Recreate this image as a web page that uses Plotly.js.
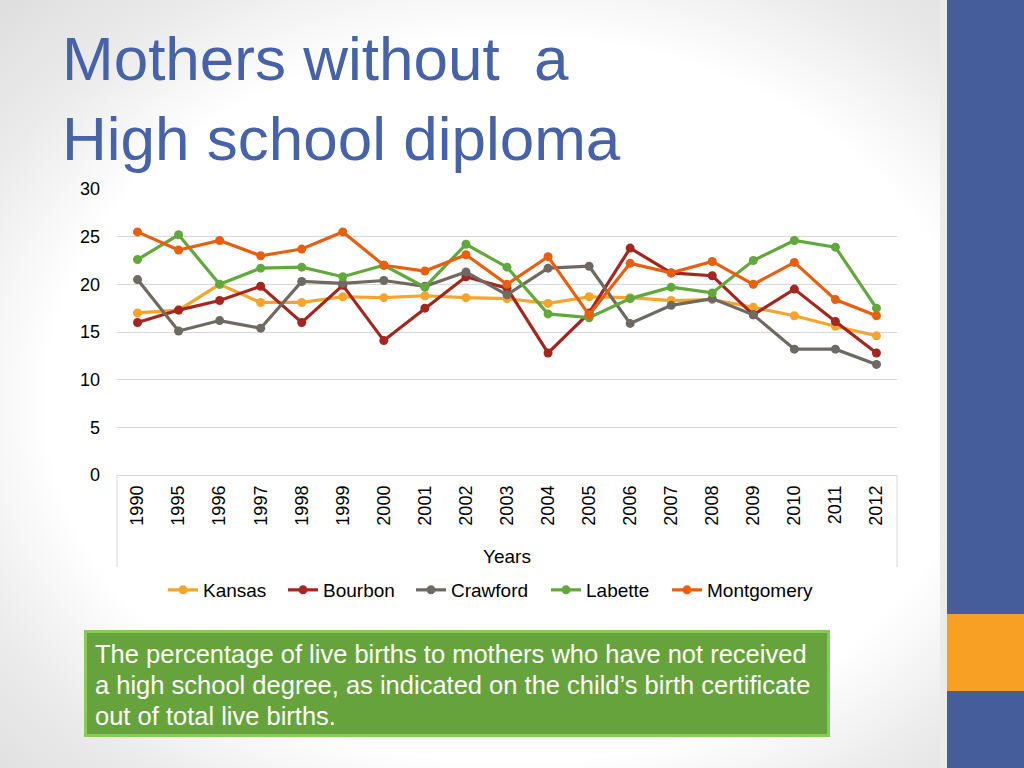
<!DOCTYPE html>
<html>
<head>
<meta charset="utf-8">
<script src="https://cdn.plot.ly/plotly-3.0.1.min.js"></script>
<style>
  html, body { margin: 0; padding: 0; }
  body {
    width: 1024px; height: 768px; overflow: hidden;
    background: radial-gradient(ellipse farthest-corner at 50% 52%, #ffffff 64%, #ebebeb 82%, #dedede 100%);
  }
  #chart { width: 1024px; height: 768px; }
</style>
</head>
<body>
<div id="chart"></div>
<script>
const years = ["1990","1995","1996","1997","1998","1999","2000","2001","2002","2003","2004","2005","2006","2007","2008","2009","2010","2011","2012"];
const kansas     = [17.0,17.3,20.0,18.1,18.1,18.7,18.6,18.8,18.6,18.5,18.0,18.7,18.6,18.3,18.4,17.6,16.7,15.6,14.6];
const bourbon    = [16.0,17.3,18.3,19.8,16.0,19.9,14.1,17.5,20.8,19.6,12.8,17.0,23.8,21.2,20.9,16.8,19.5,16.1,12.8];
const crawford   = [20.5,15.1,16.2,15.4,20.3,20.1,20.4,19.8,21.3,18.9,21.7,21.9,15.9,17.8,18.5,16.8,13.2,13.2,11.6];
const labette    = [22.6,25.2,20.0,21.7,21.8,20.8,22.0,19.7,24.2,21.8,16.9,16.5,18.5,19.7,19.1,22.5,24.6,23.9,17.5];
const montgomery = [25.5,23.6,24.6,23.0,23.7,25.5,22.0,21.4,23.1,20.0,22.9,16.8,22.2,21.2,22.4,20.0,22.3,18.4,16.7];

const seriesNames = ["Kansas","Bourbon","Crawford","Labette","Montgomery"];
const seriesData = [kansas, bourbon, crawford, labette, montgomery];
const seriesColors = ["#F7A42F","#A3271F","#6E6A62","#62A83C","#E8600F"];

const noteLines = [
  "The percentage of live births to mothers who have not received",
  "a high school degree, as indicated on the child’s birth certificate",
  "out of total live births."
];

const W = 1024, H = 768;
const px = v => v / W;
const py = v => 1 - v / H;

const FONT = "Liberation Sans, Arial, sans-serif";

// left pixel of each legend entry
const legendStarts = [172, 292, 420, 555, 676];
const legendIds = ["legend", "legend2", "legend3", "legend4", "legend5"];

const traces = seriesNames.map((name, i) => ({
  type: "scatter",
  mode: "lines+markers",
  name: name,
  x: years,
  y: seriesData[i],
  legend: legendIds[i],
  line: { color: seriesColors[i], width: 3.2 },
  marker: { color: seriesColors[i], size: 9 }
}));

const noteAnnotations = noteLines.map((t, i) => ({
  xref: "paper", yref: "paper", x: px(93), y: py(654 + 31 * i), xanchor: "left", yanchor: "middle",
  align: "left", text: t, showarrow: false,
  font: { family: FONT, size: 25.5, color: "#ffffff" }
}));

const layout = {
  width: W, height: H,
  margin: { l: 0, r: 0, t: 0, b: 0 },
  paper_bgcolor: "rgba(0,0,0,0)",
  plot_bgcolor: "rgba(0,0,0,0)",
  font: { family: FONT, color: "#000000" },
  showlegend: true,
  xaxis: {
    type: "category",
    domain: [px(117), px(897)],
    range: [-0.5, 18.5],
    showgrid: false,
    showline: false,
    zeroline: false,
    ticks: "",
    tickangle: -90,
    ticklabelstandoff: 6,
    tickfont: { family: FONT, size: 18, color: "#000000" },
    fixedrange: true
  },
  yaxis: {
    domain: [py(475), py(189)],
    range: [0, 30],
    tickvals: [0, 5, 10, 15, 20, 25, 30],
    ticktext: ["0", "5", "10", "15", "20", "25", "30"],
    showgrid: true,
    gridcolor: "#D9D9D9",
    gridwidth: 1,
    zeroline: true,
    zerolinecolor: "#D9D9D9",
    zerolinewidth: 1,
    showline: false,
    ticks: "",
    ticklabelstandoff: 16,
    tickfont: { family: FONT, size: 18, color: "#000000" },
    fixedrange: true
  },
  shapes: [
    { type: "line", xref: "paper", yref: "paper", x0: px(117), x1: px(117), y0: py(475), y1: py(567),
      line: { color: "#D9D9D9", width: 1 } },
    { type: "line", xref: "paper", yref: "paper", x0: px(897), x1: px(897), y0: py(475), y1: py(567),
      line: { color: "#D9D9D9", width: 1 } },
    { type: "rect", xref: "paper", yref: "paper", x0: px(940), x1: px(947), y0: 0, y1: 1,
      fillcolor: "#EBEBEB", line: { width: 0 }, layer: "below" },
    { type: "rect", xref: "paper", yref: "paper", x0: px(947), x1: 1, y0: 0, y1: 1,
      fillcolor: "#455E9B", line: { width: 0 } },
    { type: "rect", xref: "paper", yref: "paper", x0: px(947), x1: 1, y0: py(691), y1: py(614),
      fillcolor: "#F7A023", line: { width: 0 } },
    { type: "rect", xref: "paper", yref: "paper", x0: px(85.5), x1: px(828.5), y0: py(735.5), y1: py(631.5),
      fillcolor: "#67A33C", line: { color: "#86CC58", width: 3 } }
  ],
  annotations: [
    { xref: "paper", yref: "paper", x: px(60), y: py(58), xanchor: "left", yanchor: "middle",
      text: "Mothers without  a", showarrow: false,
      font: { family: FONT, size: 62, color: "#4663AA" } },
    { xref: "paper", yref: "paper", x: px(60), y: py(138), xanchor: "left", yanchor: "middle",
      text: "High school diploma", showarrow: false,
      font: { family: FONT, size: 62, color: "#4663AA" } },
    { xref: "paper", yref: "paper", x: px(507), y: py(556), xanchor: "center", yanchor: "middle",
      text: "Years", showarrow: false,
      font: { family: FONT, size: 19, color: "#000000" } }
  ].concat(noteAnnotations)
};

legendIds.forEach((id, i) => {
  layout[id] = {
    orientation: "h",
    x: px(legendStarts[i] - 9), xanchor: "left",
    y: py(590), yanchor: "middle",
    font: { family: FONT, size: 19, color: "#000000" },
    itemwidth: 30,
    bgcolor: "rgba(0,0,0,0)",
    borderwidth: 0
  };
});

Plotly.newPlot("chart", traces, layout, { displayModeBar: false, staticPlot: true });
</script>
</body>
</html>
